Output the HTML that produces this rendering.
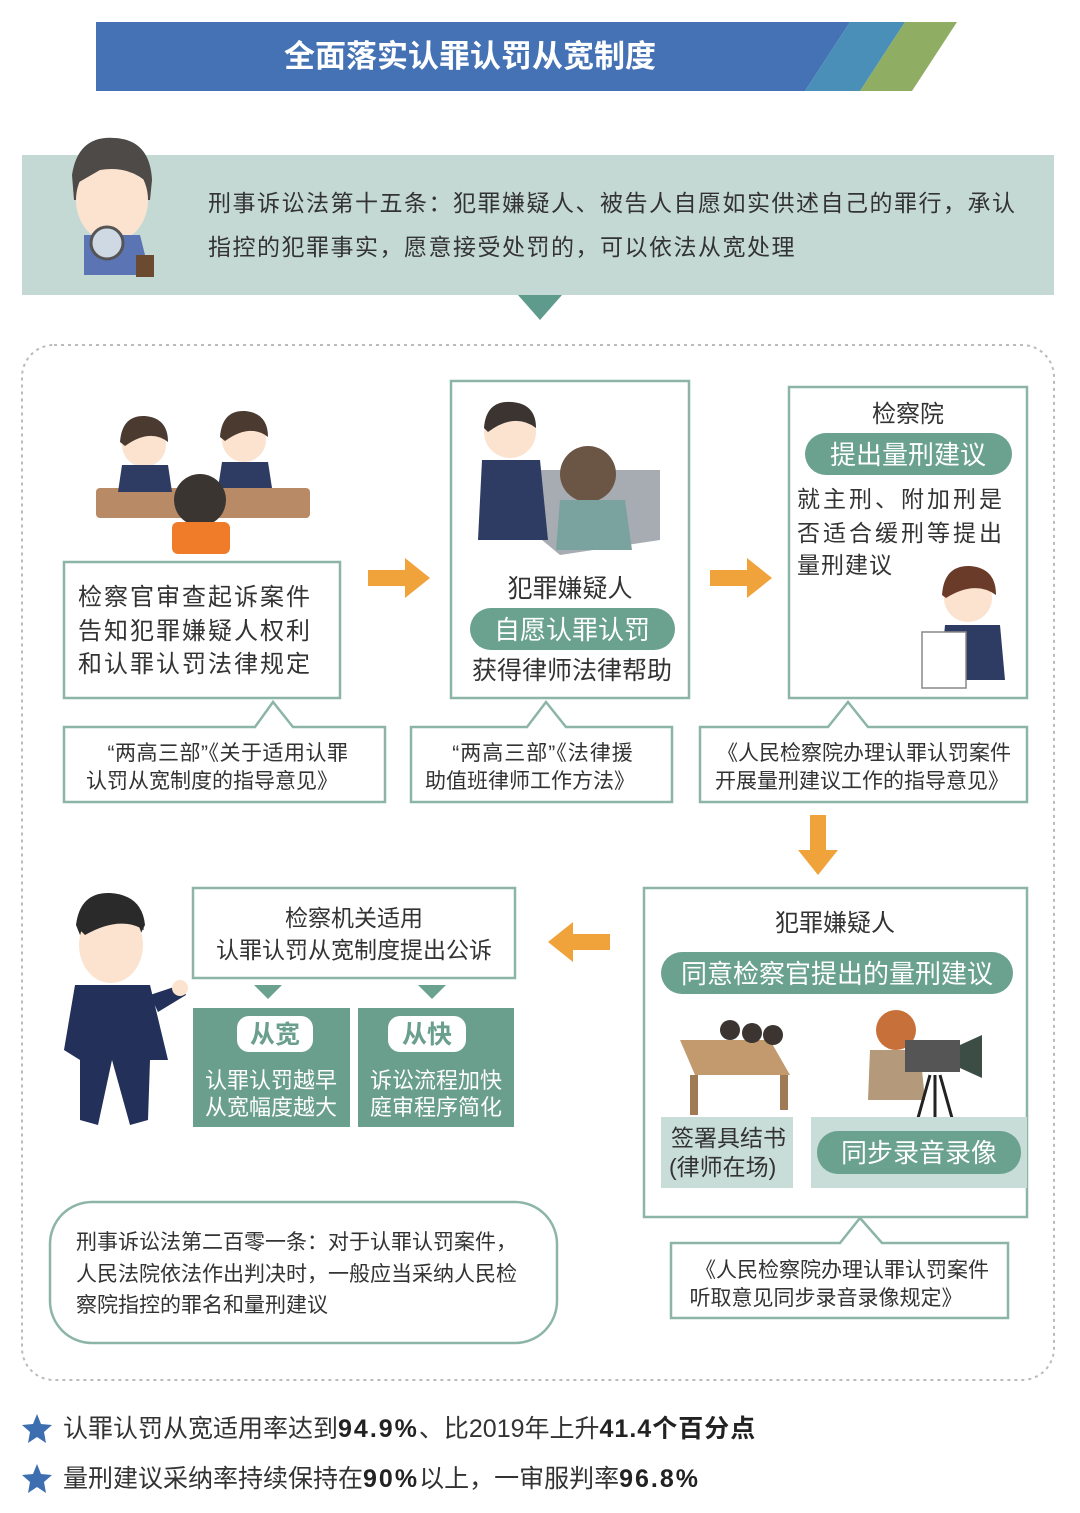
<!DOCTYPE html>
<html><head><meta charset="utf-8"><style>
html,body{margin:0;padding:0;background:#fff}
svg{display:block}
text{font-family:"Liberation Sans","Noto Sans CJK SC",sans-serif;fill:#333}
</style></head><body>
<svg width="1080" height="1513" viewBox="0 0 1080 1513" xmlns="http://www.w3.org/2000/svg">
<!-- header -->
<polygon points="96,22 850,22 805,91 96,91" fill="#4472b4"/>
<polygon points="850,22 905,22 860,91 805,91" fill="#4a8fb8"/>
<polygon points="905,22 957,22 912,91 860,91" fill="#8fae63"/>
<text x="470" y="67" font-size="31" font-weight="bold" text-anchor="middle" style="fill:#fff">全面落实认罪认罚从宽制度</text>

<!-- teal band -->
<rect x="22" y="155" width="1032" height="140" fill="#c4d9d4"/>
<polygon points="518,295 562,295 540,320" fill="#5e9b8c"/>
<text x="208" y="211" font-size="23" letter-spacing="1.5">刑事诉讼法第十五条：犯罪嫌疑人、被告人自愿如实供述自己的罪行，承认</text>
<text x="208" y="255" font-size="23" letter-spacing="1.5">指控的犯罪事实，愿意接受处罚的，可以依法从宽处理</text>
<!-- man top-left -->
<path d="M72,175 Q78,135 115,138 Q150,140 152,180 L150,200 L74,200Z" fill="#4d4a48"/>
<ellipse cx="112" cy="200" rx="36" ry="42" fill="#fbe3cf"/>
<path d="M74,185 Q80,150 115,150 Q148,150 150,185 Q130,165 100,170Z" fill="#4d4a48"/>
<path d="M84,235 L140,235 L150,275 L84,275Z" fill="#5a74b4"/>
<circle cx="107" cy="243" r="16" fill="#cfd9e4" stroke="#555" stroke-width="3"/>
<rect x="136" y="255" width="18" height="22" fill="#6b4a32"/>

<!-- dashed container -->
<rect x="22" y="345" width="1032" height="1035" rx="32" fill="none" stroke="#bbb" stroke-width="2" stroke-dasharray="3,4"/>

<g fill="none" stroke="#8cb5a8" stroke-width="2.5">
<rect x="64" y="562" width="276" height="136"/>
<rect x="451" y="381" width="238" height="317"/>
<rect x="789" y="387" width="238" height="311"/>
<rect x="644" y="888" width="383" height="329"/>
<rect x="193" y="888" width="322" height="90"/>
<path d="M64,727 H255 L273,702 L293,727 H385 V802 H64Z"/>
<path d="M411,727 H527 L546,702 L566,727 H672 V802 H411Z"/>
<path d="M700,727 H828 L848,702 L868,727 H1027 V802 H700Z"/>
<path d="M671,1243 H840 L860,1218 L882,1243 H1008 V1318 H671Z"/>
<rect x="50" y="1202" width="507" height="141" rx="42"/>
</g>

<!-- box1 illustration -->
<rect x="96" y="488" width="214" height="30" rx="4" fill="#b88a65"/>
<circle cx="144" cy="445" r="22" fill="#fbe3cf"/><path d="M120,442 Q122,415 145,416 Q168,418 168,442 Q150,428 125,446Z" fill="#4a3a30"/>
<path d="M122,465 L168,465 L172,492 L118,492Z" fill="#2e3b62"/>
<circle cx="244" cy="440" r="22" fill="#fbe3cf"/><path d="M220,437 Q222,410 245,411 Q268,413 268,437 Q250,423 225,441Z" fill="#4a3a30"/>
<path d="M222,462 L268,462 L272,488 L218,488Z" fill="#2e3b62"/>
<circle cx="200" cy="500" r="26" fill="#3a3530"/>
<rect x="172" y="522" width="58" height="32" rx="6" fill="#f07c2a"/>
<text x="78" y="605" font-size="24" letter-spacing="2">检察官审查起诉案件</text>
<text x="78" y="639" font-size="24" letter-spacing="2">告知犯罪嫌疑人权利</text>
<text x="78" y="672" font-size="24" letter-spacing="2">和认罪认罚法律规定</text>
<text x="228" y="760" font-size="21" text-anchor="middle" letter-spacing="0.5">“两高三部”《关于适用认罪</text>
<text x="212" y="788" font-size="21" text-anchor="middle">认罚从宽制度的指导意见》</text>

<!-- box2 -->
<polygon points="530,470 660,470 660,540 560,555 530,530" fill="#a6acb2"/>
<circle cx="510" cy="432" r="26" fill="#fbe3cf"/><path d="M484,428 Q486,400 512,402 Q536,404 536,428 Q515,412 488,432Z" fill="#3b3430"/>
<path d="M482,460 L540,460 L548,540 L478,540Z" fill="#2e3b62"/>
<circle cx="588" cy="474" r="28" fill="#6b5545"/>
<path d="M560,500 L625,500 L632,550 L556,550Z" fill="#7aa3a0"/>
<text x="570" y="597" font-size="25" text-anchor="middle">犯罪嫌疑人</text>
<rect x="470" y="608" width="205" height="42" rx="21" fill="#6aa28f"/>
<text x="572" y="639" font-size="26" text-anchor="middle" style="fill:#fff">自愿认罪认罚</text>
<text x="572" y="679" font-size="25" text-anchor="middle">获得律师法律帮助</text>
<text x="543" y="760" font-size="21" text-anchor="middle" letter-spacing="1">“两高三部”《法律援</text>
<text x="530" y="788" font-size="21" text-anchor="middle">助值班律师工作方法》</text>

<!-- box3 -->
<text x="908" y="422" font-size="24" text-anchor="middle">检察院</text>
<rect x="805" y="433" width="207" height="42" rx="21" fill="#6aa28f"/>
<text x="908" y="464" font-size="26" text-anchor="middle" style="fill:#fff">提出量刑建议</text>
<text x="797" y="507" font-size="23" letter-spacing="3">就主刑、附加刑是</text>
<text x="797" y="541" font-size="23" letter-spacing="3">否适合缓刑等提出</text>
<text x="797" y="573" font-size="23" letter-spacing="1">量刑建议</text>
<circle cx="968" cy="598" r="24" fill="#fbe3cf"/><path d="M942,595 Q944,565 970,566 Q996,568 996,595 Q975,580 946,598Z" fill="#6b3b2a"/>
<path d="M945,625 L1000,625 L1005,680 L940,680Z" fill="#2e3b62"/>
<rect x="922" y="632" width="44" height="56" fill="#fff" stroke="#888" stroke-width="1.5"/>
<text x="864" y="760" font-size="21" text-anchor="middle">《人民检察院办理认罪认罚案件</text>
<text x="862" y="788" font-size="21" text-anchor="middle">开展量刑建议工作的指导意见》</text>

<!-- arrows -->
<g fill="#f0a33a">
<polygon points="368,570 405,570 405,558 430,578 405,598 405,586 368,586"/>
<polygon points="710,570 747,570 747,558 772,578 747,598 747,586 710,586"/>
<polygon points="810,815 826,815 826,850 838,850 818,875 798,850 810,850"/>
<polygon points="610,934 573,934 573,922 548,942 573,962 573,950 610,950"/>
</g>

<!-- box4 -->
<text x="835" y="931" font-size="24" text-anchor="middle">犯罪嫌疑人</text>
<rect x="661" y="952" width="352" height="42" rx="21" fill="#6aa28f"/>
<text x="837" y="983" font-size="26" text-anchor="middle" style="fill:#fff">同意检察官提出的量刑建议</text>
<polygon points="680,1040 770,1040 790,1075 695,1075" fill="#c39a6e"/>
<circle cx="730" cy="1030" r="10" fill="#3b3430"/><circle cx="752" cy="1033" r="10" fill="#3b3430"/><circle cx="773" cy="1035" r="10" fill="#3b3430"/>
<rect x="690" y="1075" width="8" height="40" fill="#a07a55"/><rect x="780" y="1075" width="8" height="35" fill="#a07a55"/>
<circle cx="896" cy="1030" r="20" fill="#c8703a"/>
<path d="M870,1050 L920,1050 L925,1100 L868,1100Z" fill="#b49a7a"/>
<rect x="905" y="1040" width="55" height="32" fill="#555"/>
<polygon points="960,1045 982,1035 982,1078 960,1068" fill="#3b4d45"/>
<path d="M930,1075 L918,1118 M935,1075 L935,1118 M940,1075 L952,1118" stroke="#222" stroke-width="3"/>
<rect x="661" y="1117" width="132" height="71" fill="#c8dcd8"/>
<rect x="811" y="1117" width="216" height="71" fill="#c8dcd8"/>
<text x="671" y="1146" font-size="23">签署具结书</text>
<text x="669" y="1175" font-size="23">(律师在场)</text>
<rect x="817" y="1131" width="204" height="43" rx="21" fill="#6aa28f"/>
<text x="919" y="1162" font-size="26" text-anchor="middle" style="fill:#fff">同步录音录像</text>
<text x="842" y="1277" font-size="21" text-anchor="middle">《人民检察院办理认罪认罚案件</text>
<text x="826" y="1305" font-size="21" text-anchor="middle">听取意见同步录音录像规定》</text>

<!-- box5 -->
<text x="354" y="926" font-size="23" text-anchor="middle">检察机关适用</text>
<text x="354" y="958" font-size="23" text-anchor="middle">认罪认罚从宽制度提出公诉</text>
<polygon points="254,985 282,985 268,999" fill="#6aa28f"/>
<polygon points="418,985 446,985 432,999" fill="#6aa28f"/>
<rect x="193" y="1008" width="157" height="119" fill="#6a9e8d"/>
<rect x="358" y="1008" width="156" height="119" fill="#6a9e8d"/>
<rect x="237" y="1016" width="76" height="36" rx="12" fill="#fff"/>
<rect x="388" y="1016" width="78" height="36" rx="12" fill="#fff"/>
<text x="275" y="1043" font-size="25" font-weight="bold" text-anchor="middle" style="fill:#6a9e8d">从宽</text>
<text x="427" y="1043" font-size="25" font-weight="bold" text-anchor="middle" style="fill:#6a9e8d">从快</text>
<text x="271" y="1088" font-size="22" text-anchor="middle" style="fill:#fff">认罪认罚越早</text>
<text x="271" y="1115" font-size="22" text-anchor="middle" style="fill:#fff">从宽幅度越大</text>
<text x="436" y="1088" font-size="22" text-anchor="middle" style="fill:#fff">诉讼流程加快</text>
<text x="436" y="1115" font-size="22" text-anchor="middle" style="fill:#fff">庭审程序简化</text>

<!-- standing man -->
<path d="M76,925 Q80,892 110,893 Q142,895 145,925 L140,935 L80,935Z" fill="#2a2a2a"/>
<ellipse cx="111" cy="945" rx="32" ry="38" fill="#fbe3cf"/>
<path d="M80,930 Q90,905 112,905 Q138,905 144,930 Q120,915 85,935Z" fill="#2a2a2a"/>
<path d="M75,985 L150,985 L168,1060 L150,1060 L148,1120 L130,1125 L112,1060 L98,1125 L80,1120 L80,1060 L64,1050Z" fill="#22305a"/>
<path d="M150,995 L180,985 L186,995 L158,1012Z" fill="#22305a"/>
<circle cx="180" cy="988" r="8" fill="#fbe3cf"/>

<text x="76" y="1249" font-size="21">刑事诉讼法第二百零一条：对于认罪认罚案件，</text>
<text x="76" y="1281" font-size="21">人民法院依法作出判决时，一般应当采纳人民检</text>
<text x="76" y="1312" font-size="21">察院指控的罪名和量刑建议</text>

<!-- stats -->
<polygon points="37,1414 41,1424 52,1425 44,1432 46,1443 37,1437 28,1443 30,1432 22,1425 33,1424" fill="#3d6fb0"/>
<polygon points="37,1464 41,1474 52,1475 44,1482 46,1493 37,1487 28,1493 30,1482 22,1475 33,1474" fill="#3d6fb0"/>
<text x="63" y="1437" font-size="25">认罪认罚从宽适用率达到<tspan font-weight="bold" letter-spacing="2" style="fill:#222">94.9%</tspan>、比2019年上升<tspan font-weight="bold" letter-spacing="1" style="fill:#222">41.4个百分点</tspan></text>
<text x="63" y="1487" font-size="25">量刑建议采纳率持续保持在<tspan font-weight="bold" letter-spacing="2" style="fill:#222">90%</tspan>以上，一审服判率<tspan font-weight="bold" letter-spacing="2" style="fill:#222">96.8%</tspan></text>
</svg>
</body></html>
